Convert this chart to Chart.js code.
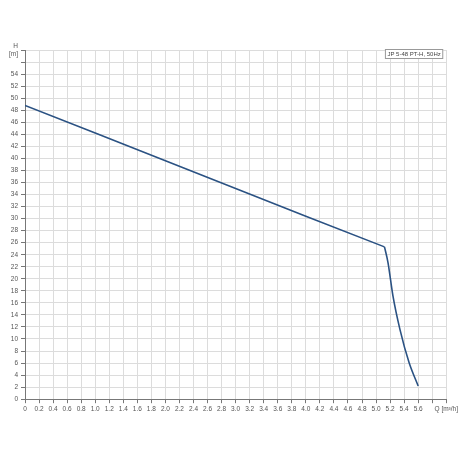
<!DOCTYPE html>
<html>
<head>
<meta charset="utf-8">
<script src="https://cdn.jsdelivr.net/npm/chart.js@4/dist/chart.umd.min.js"></script>
<style>
    html, body { margin: 0; padding: 0; background: #fff; }
    #wrap { width: 460px; height: 460px; position: relative; }
</style>
</head>
<body>
<div id="wrap"><canvas id="pumpChart"></canvas></div>
<script>
// --- Chart data ---
// straight part of the QH curve
const flowQ = [0, 1.0, 2.0, 3.0, 4.0, 5.12];
const headH = [48.8, 44.2, 39.6, 35.0, 30.4, 25.3];
// steep drop after the knee
const dropQ = [5.12, 5.17, 5.24, 5.34, 5.47, 5.6];
const dropH = [25.3, 22.7, 17.2, 11.6, 6.1, 2.2];
const curveName = 'JP 5-48 PT-H, 50Hz';
const xUnitLabel = 'Q [m³/h]';
const yUnitLabel = ['H', '[m]'];

const tickFont = { family: 'Arial, "Liberation Sans", sans-serif', size: 6.5 };
const lineColor = '#2b5283';

// draws the little boxed curve name in the top right corner
const nameBox = {
    id: 'nameBox',
    afterDraw(chart) {
        const { ctx, chartArea } = chart;
        ctx.save();
        ctx.font = '6px Arial, "Liberation Sans", sans-serif';
        const w = ctx.measureText(curveName).width + 5;
        const x = chartArea.right - 3 - w;
        const y = chartArea.top - 1;
        ctx.fillStyle = '#fff';
        ctx.fillRect(x, y, w, 9);
        ctx.strokeStyle = '#999';
        ctx.lineWidth = 1;
        ctx.strokeRect(x + 0.5, y + 0.5, w - 1, 9);
        ctx.fillStyle = '#444';
        ctx.textBaseline = 'middle';
        ctx.fillText(curveName, x + 2.5, y + 5);
        ctx.restore();
    }
};

new Chart(document.getElementById('pumpChart').getContext('2d'), {
    type: 'line',
    data: {
        datasets: [{
            label: curveName,
            data: flowQ.map((q, i) => ({ x: q, y: headH[i] })),
            borderColor: lineColor,
            borderWidth: 1.6,
            pointRadius: 0,
            tension: 0,
            fill: false
        }, {
            label: curveName + ' drop',
            data: dropQ.map((q, i) => ({ x: q, y: dropH[i] })),
            borderColor: lineColor,
            borderWidth: 1.6,
            pointRadius: 0,
            cubicInterpolationMode: 'monotone',
            fill: false
        }]
    },
    options: {
        responsive: true,
        maintainAspectRatio: false,
        animation: false,
        layout: { padding: { top: 50, right: 11, bottom: 45, left: 0 } },
        plugins: {
            legend: { display: false },
            tooltip: { enabled: false }
        },
        scales: {
            x: {
                type: 'linear',
                min: 0,
                max: 6,
                border: { color: '#777' },
                grid: { color: '#dcdcdc', tickLength: 4, tickColor: '#777' },
                ticks: {
                    stepSize: 0.2,
                    autoSkip: false,
                    maxRotation: 0,
                    color: '#555',
                    font: tickFont,
                    padding: 2,
                    callback: function (v) {
                        const r = Math.round(v * 10) / 10;
                        if (r === 6) return xUnitLabel;
                        if (r === 5.8) return '';
                        if (r === 0) return '0';
                        return r.toFixed(1);
                    }
                }
            },
            y: {
                min: 0,
                max: 58,
                border: { color: '#777' },
                grid: { color: '#dcdcdc', tickLength: 4, tickColor: '#777' },
                afterFit: function (scale) { scale.width = 25; },
                ticks: {
                    stepSize: 2,
                    autoSkip: false,
                    color: '#555',
                    font: tickFont,
                    padding: 3,
                    callback: function (v) {
                        if (v === 58) return yUnitLabel;
                        if (v === 56) return '';
                        return v;
                    }
                }
            }
        }
    },
    plugins: [nameBox]
});
</script>
</body>
</html>
